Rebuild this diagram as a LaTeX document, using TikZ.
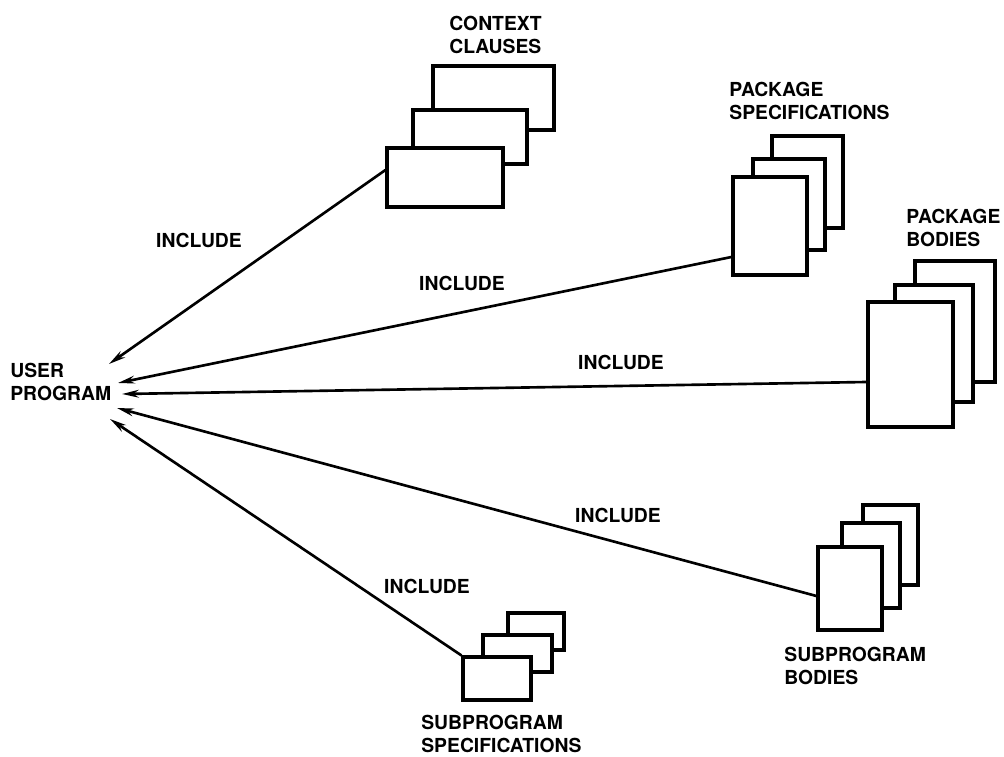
\documentclass[tikz,border=0pt]{standalone}
\usepackage{fontspec}
\setmainfont{TeX Gyre Heros}
\usetikzlibrary{arrows.meta}

\tikzset{
  sheet/.style={draw, fill=white, line width=1.8pt, inner sep=0pt},
  include/.style={line width=1.5pt, -{Stealth[length=9.5pt,width=4.4pt]}},
  lbl/.style={font=\fontsize{11}{13.5}\selectfont\bfseries, align=left, inner sep=0pt},
}

\begin{document}
\begin{tikzpicture}[x=0.02cm, y=-0.02cm]
    \useasboundingbox (0,0) rectangle (1004,757);

    % User program
    \node[lbl, anchor=west] (user) at (10,382) {USER\\PROGRAM};
    \coordinate (t1) at (109,364);
    \coordinate (t2) at (118,383);
    \coordinate (t3) at (122,394);
    \coordinate (t4) at (117,408);
    \coordinate (t5) at (110,419);

    % Context clauses
    \node[sheet, minimum width=2.42cm, minimum height=1.28cm] (cc3) at (493.5,98) {};
    \node[sheet, minimum width=2.28cm, minimum height=1.08cm] (cc2) at (470,137) {};
    \node[sheet, minimum width=2.32cm, minimum height=1.18cm] (cc1) at (445,177.5) {};
    \node[lbl, anchor=west] (cclbl) at (449,35) {CONTEXT\\CLAUSES};

    % Package specifications
    \node[sheet, minimum width=1.42cm, minimum height=1.84cm] (ps3) at (807.5,182) {};
    \node[sheet, minimum width=1.44cm, minimum height=1.82cm] (ps2) at (789,204.5) {};
    \node[sheet, minimum width=1.48cm, minimum height=1.96cm] (ps1) at (770,226) {};
    \node[lbl, anchor=west] (pslbl) at (729,101) {PACKAGE\\SPECIFICATIONS};

    % Package bodies
    \node[sheet, minimum width=1.6cm, minimum height=2.42cm] (pb3) at (955,321.5) {};
    \node[sheet, minimum width=1.56cm, minimum height=2.34cm] (pb2) at (934,343.5) {};
    \node[sheet, minimum width=1.7cm, minimum height=2.5cm] (pb1) at (910.5,364.5) {};
    \node[lbl, anchor=west] (pblbl) at (906,228) {PACKAGE\\BODIES};

    % Subprogram bodies
    \node[sheet, minimum width=1.1cm, minimum height=1.6cm] (sb3) at (890.5,545) {};
    \node[sheet, minimum width=1.16cm, minimum height=1.7cm] (sb2) at (871,565.5) {};
    \node[sheet, minimum width=1.28cm, minimum height=1.66cm] (sb1) at (850,588.5) {};
    \node[lbl, anchor=west] (sblbl) at (784,666) {SUBPROGRAM\\BODIES};

    % Subprogram specifications
    \node[sheet, minimum width=1.12cm, minimum height=0.74cm] (ss3) at (536,631.5) {};
    \node[sheet, minimum width=1.38cm, minimum height=0.74cm] (ss2) at (517.5,653.5) {};
    \node[sheet, minimum width=1.36cm, minimum height=0.86cm] (ss1) at (497,678.5) {};
    \node[lbl, anchor=west] (sslbl) at (421,734) {SUBPROGRAM\\SPECIFICATIONS};

    % Include arrows
    \draw[include] ([yshift=0.15cm]cc1.west) -- (t1);
    \draw[include] ([yshift=-0.62cm]ps1.west) -- (t2);
    \draw[include] ([yshift=-0.35cm]pb1.west) -- (t3);
    \draw[include] ([yshift=-0.15cm]sb1.west) -- (t4);
    \draw[include] (ss1.north west) -- (t5);

    \node[lbl] (inc1) at (199,240) {INCLUDE};
    \node[lbl] (inc2) at (462,283) {INCLUDE};
    \node[lbl] (inc3) at (621,362) {INCLUDE};
    \node[lbl] (inc4) at (618,515) {INCLUDE};
    \node[lbl] (inc5) at (427,586) {INCLUDE};
\end{tikzpicture}
\end{document}
